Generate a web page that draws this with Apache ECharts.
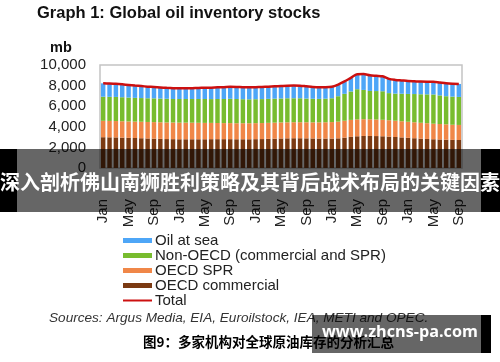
<!DOCTYPE html>
<html><head><meta charset="utf-8">
<script src="https://cdn.jsdelivr.net/npm/echarts@6/dist/echarts.min.js"></script>
<style>html,body{margin:0;padding:0;background:#fff}#c{width:500px;height:362px}</style>
</head><body><div id="c"></div>
<script>
const monthNames = ['Jan','Feb','Mar','Apr','May','Jun','Jul','Aug','Sep','Oct','Nov','Dec'];
const years = ['2017','2018','2019','2020','2021'];
const categories = [];
years.forEach(y => monthNames.forEach(m => { if (categories.length < 57) categories.push(m + ' ' + y); }));

const oecdCommercial = [2990,2980,2970,2950,2930,2910,2890,2870,2850,2830,2810,2800,
  2790,2790,2790,2790,2790,2800,2800,2800,2800,2790,2790,2790,
  2800,2810,2830,2850,2870,2880,2890,2890,2880,2870,2860,2860,
  2860,2880,2950,3020,3080,3110,3110,3100,3080,3050,3010,2970,
  2930,2890,2850,2820,2790,2770,2750,2730,2720];
const oecdSPR = [1590,1590,1590,1590,1590,1595,1600,1600,1605,1610,1610,1615,
  1615,1615,1610,1600,1590,1580,1570,1560,1560,1555,1555,1555,
  1555,1555,1555,1555,1555,1555,1555,1555,1560,1560,1570,1580,
  1600,1620,1640,1650,1640,1630,1620,1610,1600,1590,1580,1570,
  1560,1550,1540,1530,1510,1500,1490,1470,1460];
const nonOECD = [2340,2340,2340,2330,2320,2305,2300,2300,2305,2300,2300,2285,
  2295,2295,2300,2310,2320,2310,2330,2340,2360,2355,2335,2325,
  2325,2325,2325,2325,2325,2335,2325,2325,2300,2290,2280,2290,
  2310,2470,2610,2760,2930,2840,2750,2760,2770,2630,2630,2670,
  2700,2740,2770,2800,2840,2780,2730,2730,2720];
const oilAtSea = [1300,1290,1270,1250,1220,1190,1160,1130,1100,1080,1060,1050,
  1040,1040,1050,1070,1090,1110,1130,1150,1160,1170,1170,1170,
  1170,1180,1190,1200,1210,1220,1230,1220,1190,1150,1130,1110,
  1110,1130,1200,1320,1450,1540,1520,1480,1450,1380,1330,1290,
  1260,1240,1230,1230,1240,1250,1250,1250,1260];
const total = [8220,8200,8170,8120,8060,8000,7950,7900,7860,7820,7780,7750,
  7740,7740,7750,7770,7790,7800,7830,7850,7880,7870,7850,7840,
  7850,7870,7900,7930,7960,7990,8000,7990,7930,7870,7840,7840,
  7880,8100,8400,8750,9100,9120,9000,8950,8900,8650,8550,8500,
  8450,8420,8390,8380,8380,8300,8220,8180,8160];
const yTicks = [0,2000,4000,6000,8000,10000];

const chart = echarts.init(document.getElementById('c'), null, {renderer:'canvas'});
const F = 'Liberation Sans, Arial, sans-serif';
chart.setOption({
  animation:false,
  grid:{left:100,right:38,top:65,bottom:194,show:true,borderColor:'#c4c4c4',borderWidth:1.5,containLabel:false},
  xAxis:{type:'category',data:categories,boundaryGap:true,
    axisLine:{show:false},axisTick:{show:false},
    axisLabel:{interval:3,rotate:90,margin:31,fontSize:15,fontFamily:F,color:'#222',
      formatter:v=>v.split(' ')[0]}},
  yAxis:{type:'value',min:yTicks[0],max:yTicks[yTicks.length-1],interval:2000,
    splitLine:{show:false},axisLine:{show:false},axisTick:{show:false},
    axisLabel:{margin:14,fontSize:15,fontFamily:F,color:'#222',
      formatter:v=>v.toLocaleString('en-US')}},
  legend:{orient:'vertical',left:123,top:233,padding:0,itemWidth:29,itemHeight:5,itemGap:0,
    textStyle:{fontSize:15,fontFamily:F,color:'#222',lineHeight:15,padding:[0,0,0,-2]},
    data:[{name:'Oil at sea',icon:'rect'},{name:'Non-OECD (commercial and SPR)',icon:'rect'},
      {name:'OECD SPR',icon:'rect'},{name:'OECD commercial',icon:'rect'},
      {name:'Total',icon:'path://M0,0L29,0L29,2L0,2Z'}]},
  series:[
    {name:'OECD commercial',type:'bar',stack:'s',data:oecdCommercial,barCategoryGap:'30%',itemStyle:{color:'#7b3a12'}},
    {name:'OECD SPR',type:'bar',stack:'s',data:oecdSPR,itemStyle:{color:'#f08748'}},
    {name:'Non-OECD (commercial and SPR)',type:'bar',stack:'s',data:nonOECD,itemStyle:{color:'#78bc2e'}},
    {name:'Oil at sea',type:'bar',stack:'s',data:oilAtSea,itemStyle:{color:'#4ea6f7'}},
    {name:'Total',type:'line',data:total,smooth:0.3,symbol:'none',lineStyle:{color:'#cc1010',width:2.5},itemStyle:{color:'#cc1010'},z:5}
  ],
  graphic:[
    {type:'text',left:37,top:5,z:50,style:{text:'Graph 1: Global oil inventory stocks',font:'bold 16.5px '+F,fill:'#111'}},
    {type:'text',left:50,top:40,z:50,style:{text:'mb',font:'bold 14.5px '+F,fill:'#111'}},
    {type:'text',left:49,top:311,z:50,style:{text:'Sources: Argus Media, EIA, Euroilstock, IEA, METI and OPEC.',font:'italic 13.6px '+F,fill:'#333'}},
    {type:'text',left:143,top:335,z:50,style:{text:'图9：多家机构对全球原油库存的分析汇总',font:'bold 13.5px "Noto Sans CJK SC", sans-serif',fill:'#000'}},
    {type:'rect',z:60,shape:{x:312,y:315,width:169,height:38},style:{fill:'rgba(0,0,0,0.6)'}},
    {type:'rect',z:60,shape:{x:481,y:315,width:10,height:38},style:{fill:'#000'}},
    {type:'text',z:61,left:322,top:324,style:{text:'www.zhcns-pa.com',font:'bold 16.2px "Open Sans", sans-serif',fill:'#fff'}},
    {type:'rect',z:60,shape:{x:0,y:149,width:17,height:63},style:{fill:'#000'}},
    {type:'rect',z:60,shape:{x:481,y:149,width:19,height:63},style:{fill:'#000'}},
    {type:'rect',z:60,shape:{x:17,y:149,width:464,height:63},style:{fill:'rgba(0,0,0,0.6)'}},
    {type:'text',z:61,x:250,y:182,style:{text:'深入剖析佛山南狮胜利策略及其背后战术布局的关键因素',font:'bold 20px "Noto Sans CJK SC", sans-serif',fill:'#fff',align:'center',verticalAlign:'middle'}}
  ]
});
</script></body></html>
